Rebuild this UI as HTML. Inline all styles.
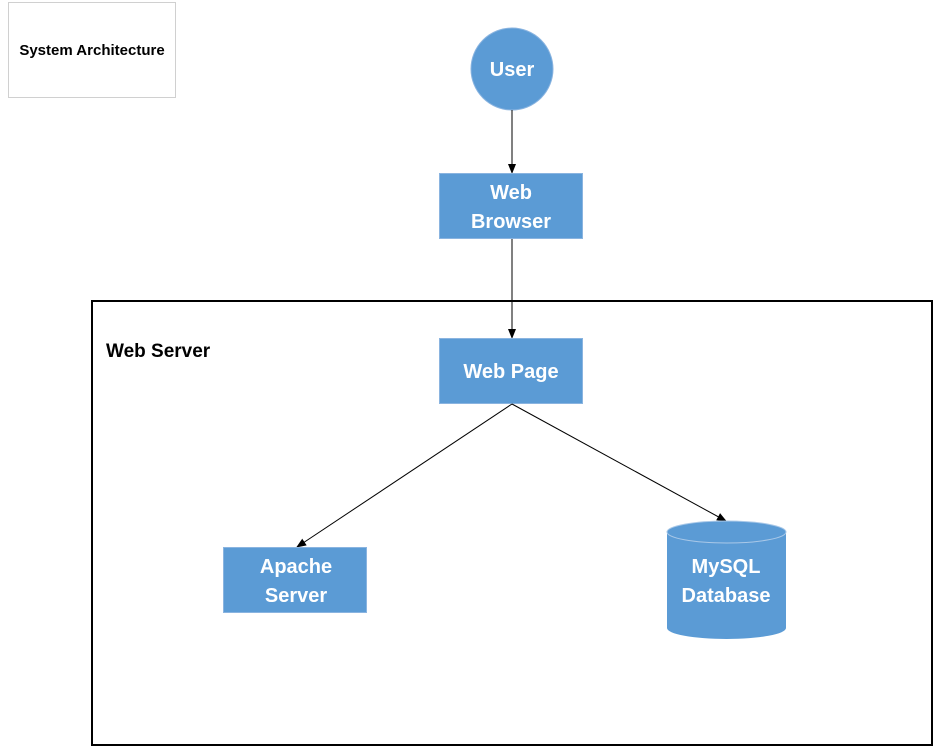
<!DOCTYPE html>
<html><head><style>
body{margin:0;width:937px;height:754px;background:#fff;font-family:"Liberation Sans",sans-serif;}
</style></head><body>
<svg width="937" height="754" xmlns="http://www.w3.org/2000/svg" style="position:absolute;left:0;top:0">
<defs><marker id="a" markerWidth="10" markerHeight="10" refX="9" refY="5" orient="auto" markerUnits="userSpaceOnUse"><path d="M0,1 L10,5 L0,9 Z" fill="#000"/></marker></defs>
<rect x="8.5" y="2.5" width="167" height="95" fill="#fff" stroke="#d0d0d0"/>
<text x="92" y="55" text-anchor="middle" font-size="15" font-weight="bold">System Architecture</text>
<rect x="92" y="301" width="840" height="444" fill="none" stroke="#000" stroke-width="2"/>
<text x="106" y="357" font-size="19" font-weight="bold">Web Server</text>
<circle cx="512" cy="69" r="41" fill="#5b9bd5" stroke="#8ab4e0"/>
<text x="512" y="76" text-anchor="middle" font-size="20" font-weight="bold" fill="#fff">User</text>
<line x1="512" y1="110" x2="512" y2="173" stroke="#000" marker-end="url(#a)"/>
<rect x="439.5" y="173.5" width="143" height="65" fill="#5b9bd5" stroke="#8ab4e0"/>
<text x="511" y="199" text-anchor="middle" font-size="20" font-weight="bold" fill="#fff">Web</text>
<text x="511" y="228" text-anchor="middle" font-size="20" font-weight="bold" fill="#fff">Browser</text>
<line x1="512" y1="239" x2="512" y2="338" stroke="#000" marker-end="url(#a)"/>
<rect x="439.5" y="338.5" width="143" height="65" fill="#5b9bd5" stroke="#8ab4e0"/>
<text x="511" y="378" text-anchor="middle" font-size="20" font-weight="bold" fill="#fff">Web Page</text>
<line x1="512" y1="404" x2="297" y2="547" stroke="#000" marker-end="url(#a)"/>
<line x1="512" y1="404" x2="726" y2="521" stroke="#000" marker-end="url(#a)"/>
<rect x="223.5" y="547.5" width="143" height="65" fill="#5b9bd5" stroke="#8ab4e0"/>
<text x="296" y="573" text-anchor="middle" font-size="20" font-weight="bold" fill="#fff">Apache</text>
<text x="296" y="602" text-anchor="middle" font-size="20" font-weight="bold" fill="#fff">Server</text>
<path d="M667,532 L667,628 A59.5,11 0 0 0 786,628 L786,532 A59.5,11 0 0 0 667,532 Z" fill="#5b9bd5"/>
<ellipse cx="726.5" cy="532" rx="59.5" ry="11" fill="#5b9bd5" stroke="#a9c8e8"/>
<text x="726" y="573" text-anchor="middle" font-size="20" font-weight="bold" fill="#fff">MySQL</text>
<text x="726" y="602" text-anchor="middle" font-size="20" font-weight="bold" fill="#fff">Database</text>
</svg>
</body></html>
